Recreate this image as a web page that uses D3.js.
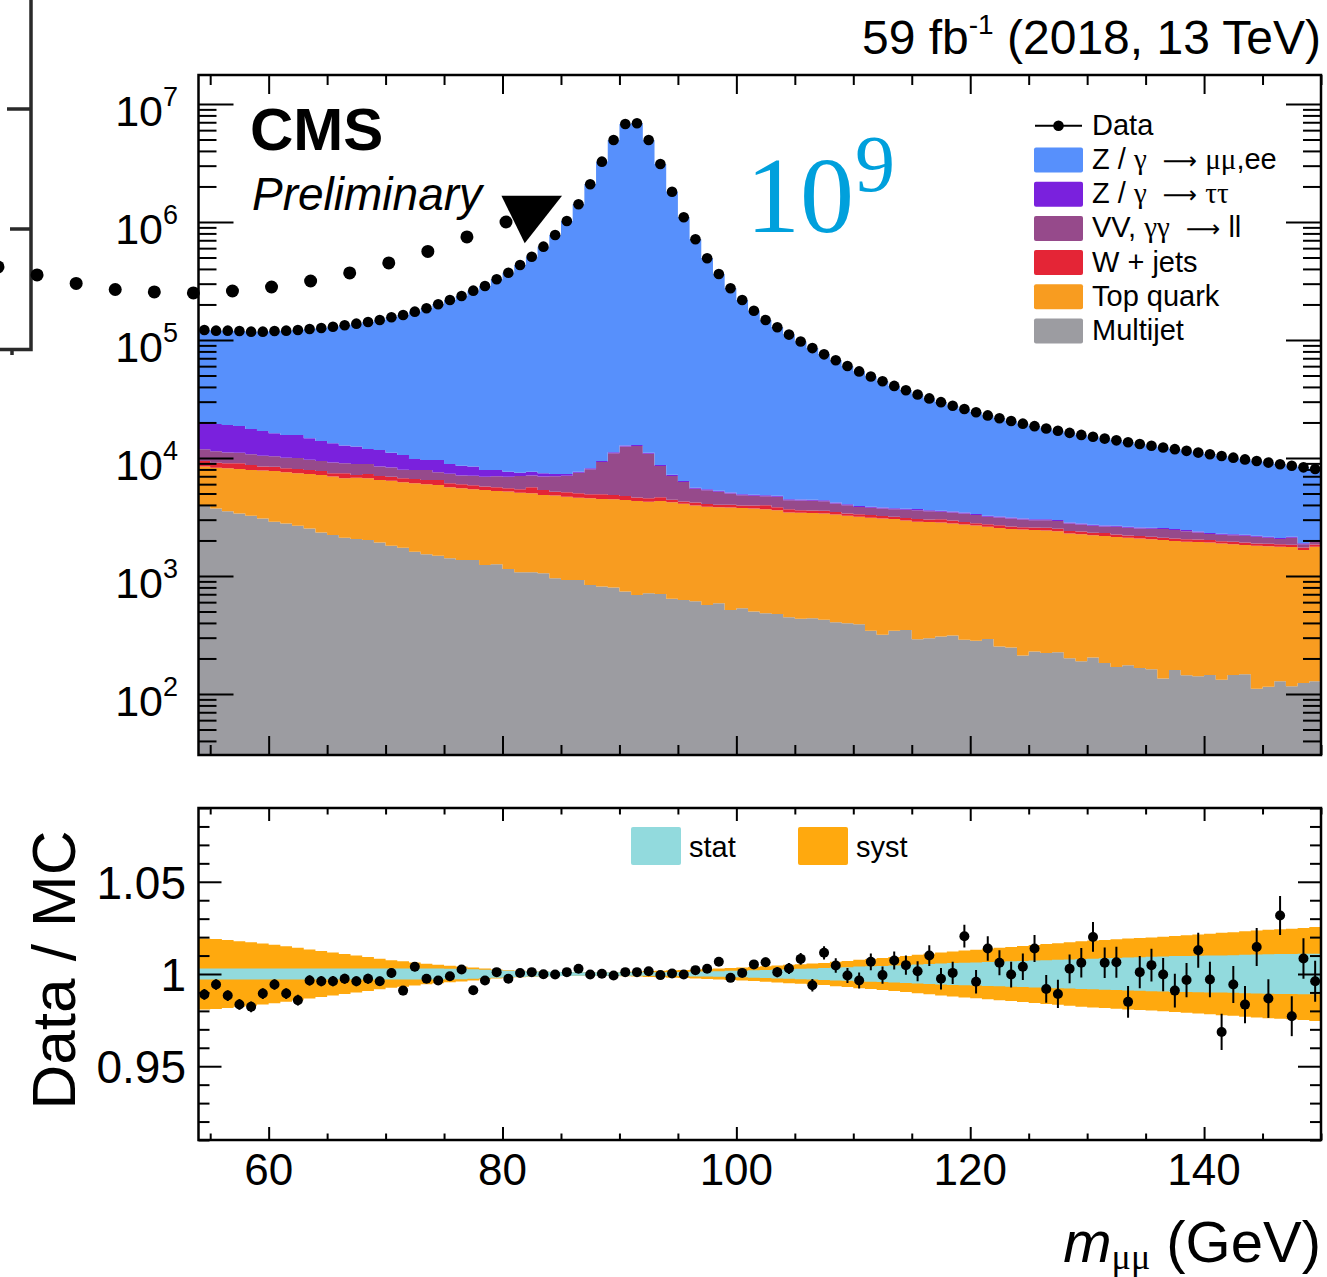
<!DOCTYPE html>
<html><head><meta charset="utf-8">
<script src="https://cdn.jsdelivr.net/npm/d3@7"></script>
<style>
body{margin:0;background:#fff}
svg{display:block}
text{font-family:"Liberation Sans",Arial,Helvetica,sans-serif;fill:#000}
.gr{font-family:"Liberation Serif","DejaVu Serif",serif}
.ar{font-family:"DejaVu Sans",sans-serif}
</style>
</head><body>
<svg id="c" width="1327" height="1277"></svg>
<script>
// ---------------- DATA ----------------
const binLow = [54,55,56,57,58,59,60,61,62,63,64,65,66,67,68,69,70,71,72,73,74,75,76,77,78,79,80,81,82,83,84,85,86,87,88,89,90,91,92,93,94,95,96,97,98,99,100,101,102,103,104,105,106,107,108,109,110,111,112,113,114,115,116,117,118,119,120,121,122,123,124,125,126,127,128,129,130,131,132,133,134,135,136,137,138,139,140,141,142,143,144,145,146,147,148,149];

const multijet = [3980,3730,3540,3385,3236,3070,2877,2786,2663,2528,
2338,2220,2108,2054,2015,1925,1804,1735,1605,1525,
1485,1410,1366,1366,1239,1255,1146,1074,1074,1054,
956,925,925,839,813,797,738,691,713,705,
640,627,610,568,587,516,533,499,483,477,
447,433,438,425,405,398,390,343,317,343,
349,291,297,307,313,288,282,293,253,248,
212,229,222,226,201,189,204,183,169,175,
166,162,135,160,144,141,145,132,145,147,
111,115,128,116,124,128];

const topQuark = [4473,4549,4626,4687,4671,4746,4885,4782,4750,4783,
4840,4730,4622,4754,4715,4591,4623,4488,4490,4459,
4417,4226,4168,4054,4119,3993,4042,4008,3949,3799,
3841,3774,3688,3711,3685,3670,3668,3634,3553,3620,
3580,3466,3354,3287,3241,3286,3234,3234,3190,3137,
3004,2995,2974,2963,2913,2838,2779,2769,2759,2691,
2602,2586,2567,2537,2473,2447,2391,2319,2300,2247,
2260,2220,2205,2173,2095,2070,2014,1995,1969,1934,
1914,1884,1879,1822,1806,1795,1778,1756,1709,1681,
1692,1671,1642,1642,1536,1642];

const wJets = [989,848,836,944,810,634,685,614,654,593,
582,466,689,364,594,528,521,505,538,528,
604,457,449,440,360,388,348,341,623,497,
389,414,407,369,427,394,357,290,286,320,
210,192,239,212,191,209,188,224,294,217,
224,171,171,186,166,146,159,171,154,137,
148,158,143,185,167,137,120,131,140,125,
111,122,133,120,115,124,111,131,107,95,
104,102,91,99,98,106,96,85,93,91,
81,89,89,79,83,80];

const vvGG = [2400,2250,2150,2050,2020,2000,1900,1880,1950,1750,
1650,1750,1600,1700,1560,1420,1340,1230,1280,1400,
1050,1250,1120,1200,1230,1350,1400,1600,1450,1600,
1800,1950,2490,3091,4325,6089,7717,8015,6328,3910,
2618,1965,1288,1266,1145,989,887,822,780,857,
712,756,752,731,634,599,519,501,503,510,
540,579,533,470,498,516,488,427,440,449,
430,401,412,398,375,352,332,321,367,355,
345,364,390,368,351,297,246,261,271,274,
264,234,196,272,111,100];

const zTauTau = [8218,8023,7898,7614,6873,6490,5843,5608,5653,5036,
4530,4154,3711,3608,3036,3226,2812,2642,1897,1708,
2064,1557,1507,1390,962,924,724,487,564,470,
344,267,150,160,190,220,250,260,220,175,
145,130,110,107,103,100,97,96,95,94,
88,87,87,86,82,80,77,76,75,74,
73,72,71,70,69,68,66,63,63,61,
60,59,59,58,56,55,53,53,52,51,
51,50,50,49,48,47,45,45,44,44,
43,42,41,42,37,39];

const zMuMuEE = [101440,100500,100850,100520,99990,100660,103010,104230,105830,109310,
112460,116280,120470,125020,130180,136010,144600,152300,163990,175980,
191080,209400,227390,253250,278990,318990,364140,424690,500340,610380,
768770,1012670,1404340,2078830,3234560,4941830,6755270,6848110,4941900,3092270,
1798820,1089620,707980,487160,357230,269200,213360,172230,142860,123320,
106625,92678,80948,71119,63097,56139,50248,45190,40862,37075,
33768,30834,28379,26141,24220,22514,21043,19727,18504,17420,
16457,15569,14749,14025,13478,12900,12406,11917,11436,11000,
10560,10128,9725,9382,9043,8724,8440,8111,7798,7493,
7239,6989,6764,6439,6439,6081];

const dataCounts = [121500,119900,119900,119200,117600,117600,119200,119900,121500,124000,
126400,129600,133200,137500,142100,147700,155700,162900,173800,185600,
200700,218300,236000,261700,286900,326900,371800,432200,508000,617800,
776100,1020000,1412000,2087000,3244000,4953000,6768000,6861000,4953000,3101000,
1806000,1096000,713600,492600,362500,274300,218300,177100,147700,128100,
111100,97120,85370,75510,67290,60200,54180,49050,44670,40830,
37480,34520,31990,29710,27740,25970,24390,22960,21700,20550,
19530,18600,17780,17000,16320,15690,15120,14600,14100,13610,
13140,12690,12270,11880,11490,11110,10750,10390,10060,9730,
9430,9140,8860,8590,8330,8070];

const ratioVals = [0.9889,0.9943,0.9883,0.9835,0.9822,0.9894,0.9943,0.9894,0.9858,0.9965,
0.9961,0.9961,0.9974,0.9961,0.9974,0.9961,1.0005,0.9910,1.0039,0.9974,
0.9965,0.9988,1.0024,0.9912,0.9965,1.0010,0.9974,1.0005,1.0010,0.9999,
0.9997,1.0010,1.0028,0.9997,1.0001,0.9992,1.0010,1.0010,1.0015,0.9994,
1.0003,0.9997,1.0021,1.0028,1.0066,0.9979,1.0006,1.0052,1.0064,1.0010,
1.0030,1.0082,0.9939,1.0115,1.0046,0.9992,0.9965,1.0066,0.9994,1.0073,
1.0048,1.0015,1.0100,0.9974,1.0006,1.0205,0.9958,1.0138,1.0061,0.9997,
1.0039,1.0138,0.9919,0.9892,1.0028,1.0061,1.0201,1.0061,1.0064,0.9849,
1.0010,1.0048,0.9997,0.9910,0.9967,1.0129,0.9970,0.9686,0.9943,0.9834,
1.0146,0.9867,1.0317,0.9771,1.0084,0.9961];

const ratioErr = [.0029,.0029,.0029,.0029,.0029,.0029,.0029,.0029,.0029,.0028,
.0028,.0028,.0027,.0027,.0027,.0026,.0025,.0025,.0024,.0023,
.0022,.0021,.0021,.002,.0019,.0017,.0016,.0015,.0014,.0013,
.0011,.001,.0008,.0007,.0006,.0004,.0004,.0004,.0004,.0006,
.0007,.001,.0012,.0014,.0017,.0019,.0021,.0024,.0026,.0028,
.003,.0032,.0034,.0036,.0039,.0041,.0043,.0045,.0047,.0049,
.0052,.0054,.0056,.0058,.006,.0062,.0064,.0066,.0068,.007,
.0072,.0073,.0075,.0077,.0078,.008,.0081,.0083,.0084,.0086,
.0087,.0089,.009,.0092,.0093,.0095,.0096,.0098,.01,.0101,
.0103,.0105,.0106,.0108,.011,.0111];

const statUnc = [.003,.003,.003,.003,.003,.003,.003,.003,.003,.003,
.003,.003,.003,.003,.003,.003,.003,.003,.003,.003,
.003,.0029,.0028,.0026,.0023,.002,.0018,.0016,.0014,.0013,
.0012,.0011,.001,.001,.001,.001,.001,.001,.001,.001,
.001,.0011,.0013,.0014,.0015,.0017,.0018,.002,.0022,.0024,
.0026,.0028,.003,.0032,.0035,.0037,.004,.0042,.0044,.0046,
.0049,.0051,.0054,.0057,.0059,.0061,.0063,.0065,.0067,.0069,
.0071,.0073,.0075,.0077,.0079,.0081,.0083,.0085,.0087,.0089,
.0091,.0093,.0095,.0097,.0098,.0099,.01,.01,.0102,.0104,
.0106,.0107,.0108,.0109,.011,.011];

const systUnc = [.0192,.019,.0185,.0178,.0172,.0165,.0158,.015,.0142,.0133,
.0125,.0117,.0108,.01,.0092,.0083,.0075,.0069,.0062,.0056,
.005,.0045,.004,.0035,.003,.0025,.0021,.0018,.0015,.0013,
.0011,.001,.0009,.0009,.001,.0011,.0012,.0014,.0016,.0018,
.002,.0022,.0025,.0027,.003,.0032,.0035,.0038,.0042,.0046,
.005,.0053,.0057,.006,.0066,.0071,.0077,.0082,.0087,.0092,
.0097,.0104,.011,.0117,.0122,.0127,.0132,.0137,.0142,.0147,
.0152,.0157,.0162,.0167,.0172,.0177,.0182,.0185,.0188,.0192,
.0195,.0198,.0202,.0206,.021,.0214,.0218,.0223,.0227,.0232,
.0236,.024,.0243,.0246,.025,.0255];

// stray overlay markers (magnified dotted row & arrow marker seen on the figure)
const overlayDotVals = [415900,355900,301300,267900,255200,250300,260000,281200,316200,369700,449700,562600,746500,1000000];
const arrowMarker = {gev: 81.9, val: 660000};

// ticks
const xMajor = [60,80,100,120,140];
const xMinor = [55,65,70,75,85,90,95,105,110,115,125,130,135,145,150];
const yMajor = [1e2,1e3,1e4,1e5,1e6,1e7];
const yMajorExp = ["2","3","4","5","6","7"];
const rMajor = [0.95,1.0,1.05];
const rMajorLabels = ["0.95","1","1.05"];
const rMinor = [0.91,0.92,0.93,0.94,0.96,0.97,0.98,0.99,1.01,1.02,1.03,1.04,1.06,1.07,1.08,1.09];

// parts: [text, style] style 0=sans, 1=serif greek, 2=arrow
const legendEntries = [
  {key:"zll", parts:[["Z / ",0],["γ",1],["  ",0],["⟶",2],[" ",0],["μμ",1],[",ee",0]]},
  {key:"ztt", parts:[["Z / ",0],["γ",1],["  ",0],["⟶",2],[" ",0],["ττ",1]]},
  {key:"vv",  parts:[["VV, ",0],["γγ",1],["  ",0],["⟶",2],[" ",0],["ll",0]]},
  {key:"wjets", parts:[["W + jets",0]]},
  {key:"top", parts:[["Top quark",0]]},
  {key:"multijet", parts:[["Multijet",0]]}
];

// ---------------- LAYOUT ----------------
const svg = d3.select("#c");
const L=198.5, R=1321, T=75, B=755, RT=808, RB=1140;
const YMIN=30.4, YMAX=1.76e7;
const x = d3.scaleLinear().domain([54,150]).range([L,R]);
const y = d3.scaleLog().domain([YMIN,YMAX]).range([B,T]).clamp(true);
const yr = d3.scaleLinear().domain([0.91,1.09]).range([RB,RT]);

const colors = {multijet:"#9c9ca1", top:"#f89c20", wjets:"#e42536", vv:"#964a8b", ztt:"#7a21dd", zll:"#5790fc"};
const keys = ["multijet","top","wjets","vv","ztt","zll"];

const defs = svg.append("defs");
defs.append("clipPath").attr("id","cm").append("rect").attr("x",L).attr("y",T).attr("width",R-L).attr("height",B-T);
defs.append("clipPath").attr("id","cr").append("rect").attr("x",L).attr("y",RT).attr("width",R-L).attr("height",RB-RT);
const blur = defs.append("filter").attr("id","blr");
blur.append("feGaussianBlur").attr("stdDeviation",0.7);

// ---------------- MAIN STACK ----------------
const rows = binLow.map((b,i)=>({b, multijet:multijet[i], top:topQuark[i], wjets:wJets[i], vv:vvGG[i], ztt:zTauTau[i], zll:zMuMuEE[i]}));
const stacked = d3.stack().keys(keys)(rows);
const area = d3.area().curve(d3.curveStepAfter)
  .x(d=>x(d.x)).y0(d=>y(Math.max(d.y0,YMIN))).y1(d=>y(Math.max(d.y1,YMIN)));
const gm = svg.append("g").attr("clip-path","url(#cm)");
stacked.forEach(layer=>{
  const pts = layer.map((d,i)=>({x:binLow[i], y0:d[0], y1:d[1]}));
  const last = pts[pts.length-1];
  pts.push({x:binLow[binLow.length-1]+1, y0:last.y0, y1:last.y1});
  gm.append("path").attr("d",area(pts)).attr("fill",colors[layer.key]);
});

// data points
svg.append("g").selectAll("circle").data(dataCounts).join("circle")
  .attr("cx",(d,i)=>x(binLow[i]+0.5)).attr("cy",d=>y(d)).attr("r",5.3).attr("fill","#000");

// ---------------- AXES helper ----------------
function tickAxis(gen, tr){
  const g = svg.append("g").attr("transform",tr).call(gen);
  g.select(".domain").remove();
  g.selectAll("text").remove();
  g.selectAll("line").attr("stroke","#000").attr("stroke-width",2);
  return g;
}
const yMinor = [];
for(let d=1; d<=7; d++) for(let k=2;k<=9;k++){ const v=k*Math.pow(10,d); if(v>YMIN && v<YMAX) yMinor.push(v); }

tickAxis(d3.axisBottom(x).tickValues(xMajor).tickSize(-19), `translate(0,${B})`);
tickAxis(d3.axisBottom(x).tickValues(xMinor).tickSize(-10), `translate(0,${B})`);
tickAxis(d3.axisTop(x).tickValues(xMajor).tickSize(-19), `translate(0,${T})`);
tickAxis(d3.axisTop(x).tickValues(xMinor).tickSize(-10), `translate(0,${T})`);
tickAxis(d3.axisLeft(y).tickValues(yMajor).tickSize(-35), `translate(${L},0)`);
tickAxis(d3.axisLeft(y).tickValues(yMinor).tickSize(-18), `translate(${L},0)`);
tickAxis(d3.axisRight(y).tickValues(yMajor).tickSize(-35), `translate(${R},0)`);
tickAxis(d3.axisRight(y).tickValues(yMinor).tickSize(-18), `translate(${R},0)`);
svg.append("rect").attr("x",L).attr("y",T).attr("width",R-L).attr("height",B-T)
  .attr("fill","none").attr("stroke","#000").attr("stroke-width",2.5);

yMajor.forEach((v,i)=>{
  const t = svg.append("text").attr("x",178).attr("y",y(v)+22).attr("text-anchor","end").attr("font-size",43);
  t.append("tspan").text("10");
  t.append("tspan").attr("font-size",27).attr("dy",-20).text(yMajorExp[i]);
});

// ---------------- TEXT ----------------
const hdr = svg.append("text").attr("x",R).attr("y",54).attr("text-anchor","end").attr("font-size",48);
hdr.append("tspan").text("59 fb");
hdr.append("tspan").attr("font-size",28).attr("dy",-20).text("-1");
hdr.append("tspan").attr("dy",20).text(" (2018, 13 TeV)");

svg.append("text").attr("x",250).attr("y",150).attr("font-size",60).attr("font-weight","bold").text("CMS");
svg.append("text").attr("x",252).attr("y",210).attr("font-size",46).attr("font-style","italic").text("Preliminary");

// ---------------- LEGEND ----------------
const lg = svg.append("g");
const rowY0 = 125.8, rowDY = 34.2;
lg.append("line").attr("x1",1035).attr("x2",1082).attr("y1",rowY0).attr("y2",rowY0).attr("stroke","#000").attr("stroke-width",2);
lg.append("circle").attr("cx",1058.5).attr("cy",rowY0).attr("r",5.3).attr("fill","#000");
lg.append("text").attr("x",1092).attr("y",rowY0+9).attr("font-size",29).text("Data");
legendEntries.forEach((e,i)=>{
  const cy = rowY0 + rowDY*(i+1);
  lg.append("rect").attr("x",1034).attr("y",cy-12.5).attr("width",49).attr("height",25).attr("rx",2).attr("fill",colors[e.key]);
  const t = lg.append("text").attr("x",1092).attr("y",cy+9).attr("font-size",29).attr("xml:space","preserve");
  e.parts.forEach(p=>{
    const s=t.append("tspan").text(p[0]);
    if(p[1]===1) s.attr("class","gr");
    if(p[1]===2) s.attr("class","ar").attr("font-size",24);
  });
});

// ---------------- RATIO PANEL ----------------
const gr = svg.append("g").attr("clip-path","url(#cr)");
const bandArea = d3.area().curve(d3.curveStepAfter).x(d=>x(d.x)).y0(d=>yr(d.lo)).y1(d=>yr(d.hi));
function bandPts(unc){
  const p = binLow.map((b,i)=>({x:b, lo:1-unc[i], hi:1+unc[i]}));
  const l = p[p.length-1]; p.push({x:binLow[binLow.length-1]+1, lo:l.lo, hi:l.hi});
  return p;
}
gr.append("path").attr("d",bandArea(bandPts(systUnc))).attr("fill","#ffa90e");
gr.append("path").attr("d",bandArea(bandPts(statUnc))).attr("fill","#92dadd");
gr.append("g").selectAll("line").data(ratioVals).join("line")
  .attr("x1",(d,i)=>x(binLow[i]+0.5)).attr("x2",(d,i)=>x(binLow[i]+0.5))
  .attr("y1",(d,i)=>yr(d-ratioErr[i])).attr("y2",(d,i)=>yr(d+ratioErr[i]))
  .attr("stroke","#000").attr("stroke-width",2);
gr.append("g").selectAll("circle").data(ratioVals).join("circle")
  .attr("cx",(d,i)=>x(binLow[i]+0.5)).attr("cy",d=>yr(d)).attr("r",5).attr("fill","#000");

tickAxis(d3.axisBottom(x).tickValues(xMajor).tickSize(-13), `translate(0,${RB})`);
tickAxis(d3.axisBottom(x).tickValues(xMinor).tickSize(-6.5), `translate(0,${RB})`);
tickAxis(d3.axisTop(x).tickValues(xMajor).tickSize(-13), `translate(0,${RT})`);
tickAxis(d3.axisTop(x).tickValues(xMinor).tickSize(-6.5), `translate(0,${RT})`);
tickAxis(d3.axisLeft(yr).tickValues(rMajor).tickSize(-23), `translate(${L},0)`);
tickAxis(d3.axisLeft(yr).tickValues(rMinor).tickSize(-11), `translate(${L},0)`);
tickAxis(d3.axisRight(yr).tickValues(rMajor).tickSize(-23), `translate(${R},0)`);
tickAxis(d3.axisRight(yr).tickValues(rMinor).tickSize(-11), `translate(${R},0)`);
svg.append("rect").attr("x",L).attr("y",RT).attr("width",R-L).attr("height",RB-RT)
  .attr("fill","none").attr("stroke","#000").attr("stroke-width",2.5);

rMajor.forEach((v,i)=>{
  svg.append("text").attr("x",186).attr("y",yr(v)+17).attr("text-anchor","end").attr("font-size",46).text(rMajorLabels[i]);
});
xMajor.forEach(v=>{
  svg.append("text").attr("x",x(v)).attr("y",1185).attr("text-anchor","middle").attr("font-size",44).text(v);
});
svg.append("text").attr("transform","translate(75,970) rotate(-90)").attr("text-anchor","middle").attr("font-size",62).text("Data / MC");

const xt = svg.append("text").attr("x",R).attr("y",1262).attr("text-anchor","end").attr("font-size",58);
xt.append("tspan").attr("font-style","italic").text("m");
xt.append("tspan").attr("class","gr").attr("font-size",36).attr("dy",7).text("μμ");
xt.append("tspan").attr("dy",-7).text(" (GeV)");

// ratio legend
svg.append("rect").attr("x",631).attr("y",827).attr("width",50).attr("height",38).attr("rx",2).attr("fill","#92dadd");
svg.append("text").attr("x",689).attr("y",857).attr("font-size",29).text("stat");
svg.append("rect").attr("x",798).attr("y",827).attr("width",50).attr("height",38).attr("rx",2).attr("fill","#ffa90e");
svg.append("text").attr("x",856).attr("y",857).attr("font-size",29).text("syst");

// ---------------- OVERLAY ARTEFACTS ----------------
const ov = svg.append("g");
const fr = ov.append("g").attr("filter","url(#blr)").attr("stroke","#2a2a2a").attr("stroke-width",3.5).attr("fill","none");
fr.append("path").attr("d","M31,-5 V349.5 H-5");
fr.append("path").attr("d","M7,109 H31 M10,229 H31 M12,349 V355");
const ox = d3.scaleLinear().domain([0,13]).range([-2,506]);
ov.selectAll("circle.od").data(overlayDotVals).join("circle").attr("class","od")
  .attr("cx",(d,i)=>ox(i)).attr("cy",d=>y(d)).attr("r",6.5).attr("fill","#000");
const ax = x(arrowMarker.gev), ay = y(arrowMarker.val);
ov.append("path").attr("d",`M${ax},${ay} L${ax-23.3},${ay-47.6} L${ax+37.3},${ay-47.6} Z`).attr("fill","#000");
const nine = ov.append("text").attr("x",746).attr("y",232).attr("class","gr").attr("font-size",108).style("fill","#00a0dc");
nine.append("tspan").text("10");
nine.append("tspan").attr("x",855).attr("y",191).attr("font-size",80).text("9");
</script>
</body></html>
